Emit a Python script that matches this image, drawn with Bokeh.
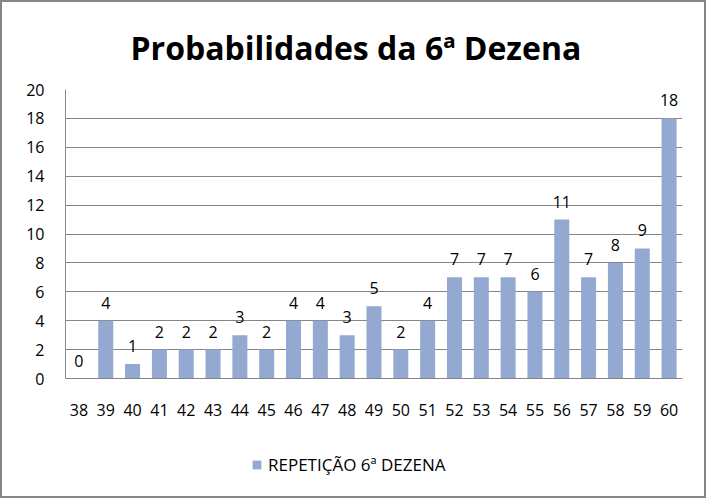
from bokeh.plotting import figure
from bokeh.core.properties import value
from bokeh.layouts import column
from bokeh.models import ColumnDataSource, FactorRange, Range1d, LabelSet, Legend, LegendItem, FixedTicker
from bokeh.embed import file_html
from bokeh.resources import INLINE

categories = [str(n) for n in range(38, 61)]
values = [0, 4, 1, 2, 2, 2, 3, 2, 4, 4, 3, 5, 2, 4, 7, 7, 7, 6, 11, 7, 8, 9, 18]
series_name = "REPETIÇÃO 6ª DEZENA"
title_text = "Probabilidades da 6ª Dezena"
y_ticks = list(range(0, 21, 2))

BAR = "#94A9D1"
GRID = "#868686"
FONT = "Open Sans"

src = ColumnDataSource(dict(cat=categories, val=values, lab=[str(v) for v in values]))

p = figure(width=702, height=440, x_range=FactorRange(*categories), y_range=Range1d(0, 20),
           output_backend="svg", toolbar_location=None, title=title_text,
           min_border_left=63, min_border_right=22, min_border_top=87, min_border_bottom=64)
p.outline_line_color = None
p.border_fill_color = "white"
p.background_fill_color = "white"

p.title.align = "left"
p.title.offset = 65
p.title.text_font = FONT
p.title.text_font_size = "32px"
p.title.text_font_style = "bold"
p.title.text_color = "#000000"
p.title.standoff = 42

r = p.vbar(x="cat", top="val", width=0.56, source=src, fill_color=BAR, line_color=None)

p.add_layout(LabelSet(x="cat", y="val", text="lab", source=src, y_offset=12, text_align="center",
                      text_font=value(FONT), text_font_size="16px", text_color="#000000"))

p.yaxis.ticker = FixedTicker(ticks=y_ticks)
p.ygrid.ticker = FixedTicker(ticks=y_ticks)
p.ygrid.grid_line_color = GRID
p.xgrid.grid_line_color = None
for ax in (p.xaxis, p.yaxis):
    ax.axis_line_color = GRID
    ax.major_tick_line_color = None
    ax.minor_tick_line_color = None
    ax.major_label_text_font = FONT
    ax.major_label_text_font_size = "16px"
    ax.major_label_text_color = "#000000"
p.yaxis.major_label_standoff = 15
p.xaxis.major_label_standoff = 19

# legend strip below the chart
leg = figure(width=702, height=54, x_range=Range1d(0, 1), y_range=Range1d(0, 1),
             x_axis_type=None, y_axis_type=None,
             output_backend="svg", toolbar_location=None, min_border=0)
leg.outline_line_color = None
leg.grid.visible = False
dummy = leg.vbar(x=[-5], top=[-5], bottom=[-6], width=0.5, fill_color=BAR, line_color=None)
legend = Legend(items=[LegendItem(label=series_name, renderers=[dummy])], orientation="horizontal",
                location=(186, 20), label_text_font=FONT, label_text_font_size="17px",
                label_text_color="#000000", border_line_color=None, background_fill_alpha=0,
                glyph_width=11, glyph_height=11, label_standoff=6, margin=0, padding=0)
leg.add_layout(legend, "center")

layout = column(p, leg, spacing=0, styles={"border": "2px solid #868686"})

open("out.html", "w").write(file_html(layout, INLINE))
